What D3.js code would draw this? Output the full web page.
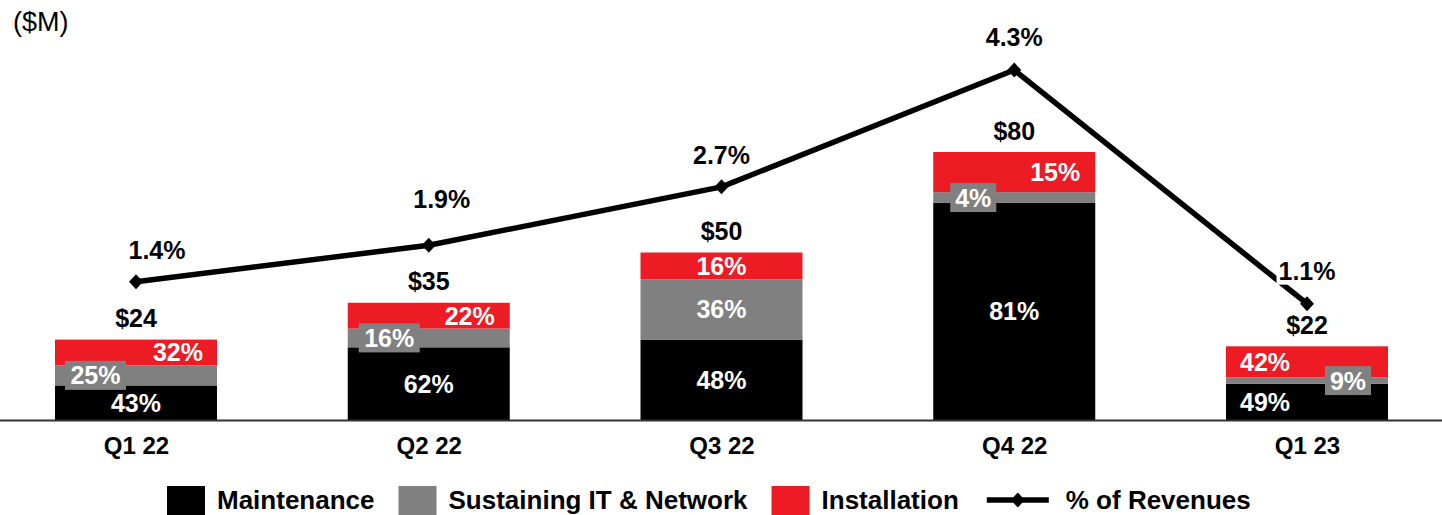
<!DOCTYPE html>
<html>
<head>
<meta charset="utf-8">
<script src="https://cdn.jsdelivr.net/npm/d3@7"></script>
<style>
  html, body { margin: 0; padding: 0; background: #fff; }
  svg { display: block; font-family: "Liberation Sans", Arial, Helvetica, sans-serif; }
</style>
</head>
<body>
<svg id="chart" width="1442" height="515"></svg>
<script>
// ---- data ----
const categories = ["Q1 22", "Q2 22", "Q3 22", "Q4 22", "Q1 23"];
const totals = [24, 35, 50, 80, 22];
const maintenancePct = [43, 62, 48, 81, 49];
const sustainingPct = [25, 16, 36, 4, 9];
const installationPct = [32, 22, 16, 15, 42];
const revenuePct = [1.4, 1.9, 2.7, 4.3, 1.1];
const seriesNames = ["Maintenance", "Sustaining IT & Network", "Installation"];
const lineName = "% of Revenues";
const unitLabel = "($M)";

// ---- style / layout ----
const colors = { "Maintenance": "#000000", "Sustaining IT & Network": "#808080", "Installation": "#ED1C24" };
const barWidth = 162;
// label placement per category: [maintenance, sustaining, installation]
const labelLayout = [
  [{m: "center"}, {m: "boxL", dx: 10, w: 61}, {m: "right", dx: -14}],
  [{m: "center"}, {m: "boxL", dx: 11, w: 61}, {m: "right", dx: -15}],
  [{m: "center"}, {m: "center"}, {m: "center"}],
  [{m: "center"}, {m: "boxL", dx: 17, w: 46}, {m: "right", dx: -15}],
  [{m: "left", dx: 14}, {m: "boxR", dx: -17, w: 46}, {m: "left", dx: 14}]
];
const lineLabelOffset = [[21, -23], [13, -37], [0, -23], [0, -24], [0, -24]];
const lineLabelBg = [false, false, false, false, true];

const svg = d3.select("#chart");

const x = d3.scalePoint().domain(categories).range([136, 1307]);
const y = d3.scaleLinear().domain([0, 80]).range([420, 152]);
const y2 = d3.scaleLinear().domain([0, 4.3]).range([384, 70]);

// stacked data in $M
const rows = categories.map((c, i) => ({
  cat: c, i,
  "Maintenance": totals[i] * maintenancePct[i] / 100,
  "Sustaining IT & Network": totals[i] * sustainingPct[i] / 100,
  "Installation": totals[i] * installationPct[i] / 100
}));
const pcts = [maintenancePct, sustainingPct, installationPct];
const stacked = d3.stack().keys(seriesNames)(rows);

// bars
const gBars = svg.append("g");
stacked.forEach((layer, si) => {
  gBars.selectAll(null).data(layer).enter().append("rect")
    .attr("x", d => x(d.data.cat) - barWidth / 2)
    .attr("width", barWidth)
    .attr("y", d => y(d[1]))
    .attr("height", d => y(d[0]) - y(d[1]))
    .attr("fill", colors[seriesNames[si]]);
});

// axis baseline
svg.append("line").attr("x1", 0).attr("x2", 1442).attr("y1", 420.5).attr("y2", 420.5)
  .attr("stroke", "#333").attr("stroke-width", 2);

// axis labels
const axis = d3.axisBottom(x).tickSize(0).tickPadding(0);
const gAxis = svg.append("g").attr("transform", "translate(0,454)").call(axis);
gAxis.select(".domain").remove();
gAxis.selectAll("text")
  .attr("dy", 0).attr("y", 0)
  .attr("font-family", "Liberation Sans, Arial, sans-serif")
  .attr("font-size", 24).attr("font-weight", "bold").attr("fill", "#000");

// segment labels
const segFont = 25;
const gLab = svg.append("g").attr("font-size", segFont).attr("font-weight", "bold");
stacked.forEach((layer, si) => {
  layer.forEach((d, i) => {
    const cx = x(d.data.cat);
    const left = cx - barWidth / 2, right = cx + barWidth / 2;
    const cy = (y(d[0]) + y(d[1])) / 2;
    const L = labelLayout[i][si];
    const txt = pcts[si][i] + "%";
    const base = cy + segFont * 0.36;
    let tx, anchor = "middle";
    if (L.m === "center") { tx = cx; }
    else if (L.m === "right") { tx = right + L.dx; anchor = "end"; }
    else if (L.m === "left") { tx = left + L.dx; anchor = "start"; }
    else {
      const bx = L.m === "boxL" ? left + L.dx : right + L.dx - L.w;
      gLab.append("rect").attr("x", bx).attr("y", cy - 14.5).attr("width", L.w).attr("height", 29)
        .attr("fill", colors[seriesNames[si]]);
      tx = bx + L.w / 2;
    }
    gLab.append("text").attr("x", tx).attr("y", base).attr("text-anchor", anchor)
      .attr("fill", "#fff").text(txt);
  });
});

// total labels
svg.append("g").selectAll("text").data(categories).enter().append("text")
  .attr("x", d => x(d))
  .attr("y", (d, i) => y(totals[i]) - 12.5)
  .attr("text-anchor", "middle").attr("font-size", 25).attr("font-weight", "bold").attr("fill", "#000")
  .text((d, i) => "$" + totals[i]);

// line
const lineGen = d3.line().x((d, i) => x(categories[i])).y(d => y2(d));
svg.append("path").datum(revenuePct).attr("d", lineGen)
  .attr("fill", "none").attr("stroke", "#000").attr("stroke-width", 5.5).attr("stroke-linejoin", "round");
const diamondPath = "M0,-7.5L7,0L0,7.5L-7,0Z";
svg.append("g").selectAll("path").data(revenuePct).enter().append("path")
  .attr("d", diamondPath)
  .attr("transform", (d, i) => `translate(${x(categories[i])},${y2(d)})`)
  .attr("fill", "#000");

// line labels
const gLL = svg.append("g").attr("font-size", 25).attr("font-weight", "bold");
revenuePct.forEach((v, i) => {
  const lx = x(categories[i]) + lineLabelOffset[i][0];
  const ly = y2(v) + lineLabelOffset[i][1];
  const t = gLL.append("text").attr("x", lx).attr("y", ly).attr("text-anchor", "middle")
    .attr("fill", "#000").text(v.toFixed(1) + "%");
  if (lineLabelBg[i]) {
    const bb = t.node().getBBox();
    gLL.insert("rect", () => t.node()).attr("x", bb.x - 2).attr("y", bb.y + 2)
      .attr("width", bb.width + 4).attr("height", bb.height - 2).attr("fill", "#fff");
  }
});

// unit label
svg.append("text").attr("x", 13).attr("y", 31).attr("font-size", 27).attr("fill", "#000").text(unitLabel);

// legend
const legend = svg.append("g").attr("font-size", 26).attr("font-weight", "bold");
let lx = 167;
seriesNames.forEach(name => {
  legend.append("rect").attr("x", lx).attr("y", 486).attr("width", 38).attr("height", 38).attr("fill", colors[name]);
  const t = legend.append("text").attr("x", lx + 50).attr("y", 509).attr("fill", "#000").text(name);
  lx = lx + 50 + t.node().getComputedTextLength() + 24;
});
lx += 4;
legend.append("line").attr("x1", lx).attr("x2", lx + 62).attr("y1", 500).attr("y2", 500)
  .attr("stroke", "#000").attr("stroke-width", 5.5);
legend.append("path").attr("d", diamondPath).attr("transform", `translate(${lx + 31},500)`).attr("fill", "#000");
legend.append("text").attr("x", lx + 79).attr("y", 509).attr("fill", "#000").text(lineName);
</script>
</body>
</html>
